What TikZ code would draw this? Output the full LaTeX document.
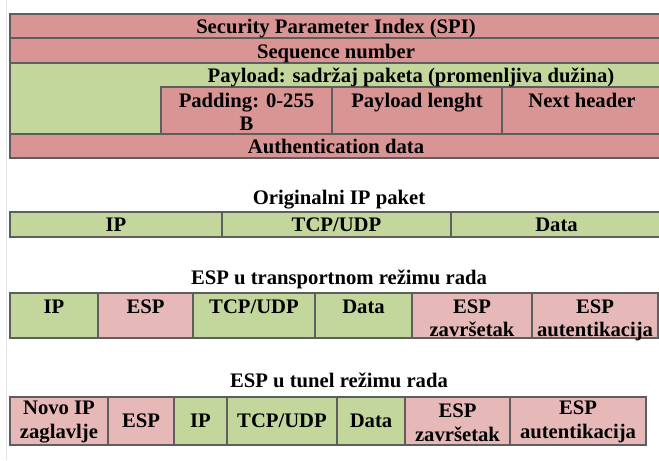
\documentclass[tikz,border=0pt]{standalone}
\usepackage{fontspec}
\setmainfont{Liberation Serif}
\usetikzlibrary{fit}
\definecolor{pinkA}{HTML}{D99594}
\definecolor{pinkB}{HTML}{E6B9B8}
\definecolor{greenA}{HTML}{C3D69B}
\definecolor{edge}{HTML}{5E5E5E}
\tikzset{
  cell/.style={draw=edge, line width=1pt, inner sep=0pt},
  lab/.style={font=\fontsize{15.5}{17}\selectfont\bfseries, align=center, inner sep=0pt, text=black},
  ttl/.style={font=\fontsize{15.5}{17}\selectfont\bfseries, inner sep=0pt, text=black, anchor=base},
}
\newcommand\cellbox[6]{\node[cell, fill=#6, fit={(#2,#3) (#4,#5)}] (#1) {};}
\begin{document}
\begin{tikzpicture}[x=0.75pt,y=-0.75pt]
\useasboundingbox (0,0) rectangle (659,460);
\fill[white] (0,0) rectangle (659,460);
\draw[gray!20, line width=0.75pt] (6,0) -- (6,460);
% ESP packet format
\cellbox{spi}{10}{14}{662}{38}{pinkA}
\cellbox{seq}{10}{38}{662}{63}{pinkA}
\cellbox{pay}{10}{63}{662}{134}{greenA}
\cellbox{pad}{161}{87}{332}{134}{pinkA}
\cellbox{plen}{332}{87}{502}{134}{pinkA}
\cellbox{nxt}{502}{87}{662}{134}{pinkA}
\cellbox{auth}{10}{134}{662}{158}{pinkA}
\node[lab, anchor=base] at ([yshift=-5.75pt]spi.center) {Security Parameter Index (SPI)};
\node[lab, anchor=base] at ([yshift=-5.75pt]seq.center) {Sequence number};
\node[lab, anchor=base] at (411,82) {Payload: sadržaj paketa (promenljiva dužina)};
\node[lab, anchor=north] at ([yshift=-5pt]pad.north) {Padding: 0-255\\B};
\node[lab, anchor=north] at ([yshift=-5pt]plen.north) {Payload lenght};
\node[lab, anchor=north] at ([yshift=-5pt]nxt.north) {Next header};
\node[lab, anchor=base] at ([yshift=-5.75pt]auth.center) {Authentication data};
% Original IP packet
\node[ttl] (t1) at (339,204) {Originalni IP paket};
\cellbox{oip}{10}{212}{222}{237}{greenA}
\cellbox{otcp}{222}{212}{451}{237}{greenA}
\cellbox{odata}{451}{212}{662}{237}{greenA}
\node[lab, anchor=base] at ([yshift=-5.5pt]oip.center) {IP};
\node[lab, anchor=base] at ([yshift=-5.5pt]otcp.center) {TCP/UDP};
\node[lab, anchor=base] at ([yshift=-5.5pt]odata.center) {Data};
% Transport mode
\node[ttl] (t2) at (339,284) {ESP u transportnom režimu rada};
\cellbox{tip}{10}{293}{98}{338}{greenA}
\cellbox{tesp}{98}{293}{193}{338}{pinkB}
\cellbox{ttcp}{193}{293}{315}{338}{greenA}
\cellbox{tdata}{315}{293}{412}{338}{greenA}
\cellbox{tend}{412}{293}{532}{338}{pinkB}
\cellbox{tauth}{532}{293}{658}{338}{pinkB}
\node[lab, anchor=north] at ([yshift=-5.5pt]tip.north) {IP};
\node[lab, anchor=north] at ([yshift=-5.5pt]tesp.north) {ESP};
\node[lab, anchor=north] at ([yshift=-5.5pt]ttcp.north) {TCP/UDP};
\node[lab, anchor=north] at ([yshift=-5.5pt]tdata.north) {Data};
\node[lab, anchor=north] at ([yshift=-5.5pt]tend.north) {ESP\\završetak};
\node[lab, anchor=north] at ([yshift=-5.5pt]tauth.north) {ESP\\autentikacija};
% Tunnel mode
\node[ttl] (t3) at (339,387) {ESP u tunel režimu rada};
\cellbox{nip}{10}{397}{108}{445}{pinkB}
\cellbox{uesp}{108}{397}{174}{445}{pinkB}
\cellbox{uip}{174}{397}{227}{445}{greenA}
\cellbox{utcp}{227}{397}{337}{445}{greenA}
\cellbox{udata}{337}{397}{405}{445}{greenA}
\cellbox{uend}{405}{397}{510}{445}{pinkB}
\cellbox{uauth}{510}{397}{646}{445}{pinkB}
\node[lab, font=\fontsize{15.5}{18}\selectfont\bfseries] at ([yshift=-1pt]nip.center) {Novo IP\\zaglavlje};
\node[lab] at (uesp.center) {ESP};
\node[lab] at (uip.center) {IP};
\node[lab] at (utcp.center) {TCP/UDP};
\node[lab] at (udata.center) {Data};
\node[lab, font=\fontsize{15.5}{18}\selectfont\bfseries] at ([yshift=-1pt]uend.center) {ESP\\završetak};
\node[lab, font=\fontsize{15.5}{18}\selectfont\bfseries] at ([yshift=-1pt]uauth.center) {ESP\\autentikacija};
\end{tikzpicture}
\end{document}
